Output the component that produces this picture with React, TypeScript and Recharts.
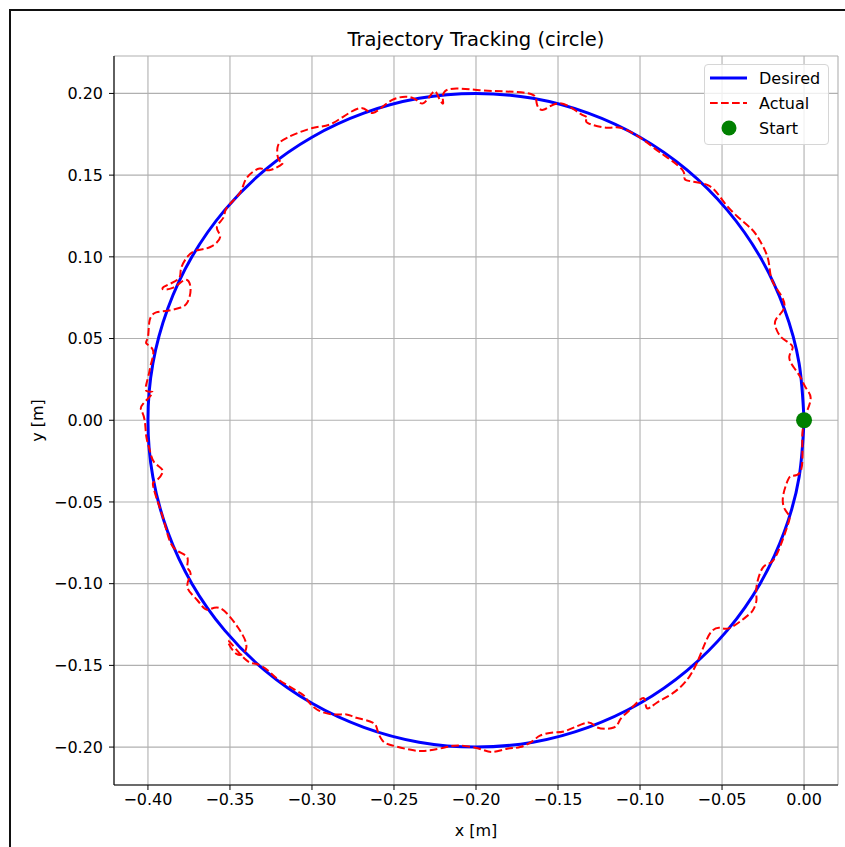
import React from "react";
import {
  ScatterChart,
  Scatter,
  XAxis,
  YAxis,
  CartesianGrid,
  Legend,
} from "recharts";

// desired path (circle, r = 0.2 m, centre -0.2), every 10 degrees
const desiredX = [
  0, -0.003, -0.0121, -0.0268, -0.0468, -0.0714, -0.1, -0.1316, -0.1653, -0.2,
  -0.2347, -0.2684, -0.3, -0.3286, -0.3532, -0.3732, -0.3879, -0.397, -0.4,
  -0.397, -0.3879, -0.3732, -0.3532, -0.3286, -0.3, -0.2684, -0.2347, -0.2,
  -0.1653, -0.1316, -0.1, -0.0714, -0.0468, -0.0268, -0.0121, -0.003, 0,
];
const desiredY = [
  0, 0.0347, 0.0684, 0.1, 0.1286, 0.1532, 0.1732, 0.1879, 0.197, 0.2, 0.197,
  0.1879, 0.1732, 0.1532, 0.1286, 0.1, 0.0684, 0.0347, 0, -0.0347, -0.0684,
  -0.1, -0.1286, -0.1532, -0.1732, -0.1879, -0.197, -0.2, -0.197, -0.1879,
  -0.1732, -0.1532, -0.1286, -0.1, -0.0684, -0.0347, 0,
];

// measured path
const actualX = [
  0, 0.002, 0.004, 0.001, -0.002, -0.006, -0.009, -0.007, -0.013, -0.017,
  -0.017, -0.012, -0.015, -0.02, -0.022, -0.027, -0.032, -0.041, -0.05, -0.059,
  -0.072, -0.074, -0.088, -0.1, -0.112,
  -0.12, -0.132, -0.132, -0.137, -0.149, -0.159, -0.163, -0.165, -0.177, -0.198,
  -0.218, -0.22, -0.223, -0.226, -0.232, -0.238, -0.251,
  -0.263, -0.271, -0.287, -0.299, -0.315, -0.321, -0.32, -0.318, -0.326, -0.332,
  -0.34, -0.344, -0.352, -0.354, -0.358, -0.356, -0.362, -0.37,
  -0.376, -0.38, -0.382, -0.391, -0.385, -0.377, -0.374, -0.376, -0.38, -0.388,
  -0.395, -0.399, -0.4, -0.401, -0.397, -0.398, -0.4, -0.401, -0.397, -0.403,
  -0.404, -0.402, -0.401, -0.399, -0.396, -0.391, -0.395, -0.397, -0.395,
  -0.391, -0.387, -0.382, -0.376, -0.376,
  -0.374, -0.376, -0.37, -0.364, -0.356, -0.345, -0.34, -0.346, -0.351, -0.341,
  -0.334, -0.327, -0.32, -0.307, -0.303, -0.297, -0.287, -0.279, -0.273,
  -0.263, -0.26, -0.257, -0.251,
  -0.238, -0.228, -0.218, -0.21, -0.198, -0.19, -0.181, -0.173, -0.165, -0.161,
  -0.153, -0.145, -0.132, -0.126, -0.116, -0.112, -0.106, -0.098, -0.096,
  -0.09, -0.08, -0.07, -0.063, -0.057,
  -0.051, -0.045, -0.035, -0.031, -0.029, -0.029, -0.025, -0.019, -0.013,
  -0.009, -0.01, -0.013, -0.01, -0.007, -0.002, -0.001, -0.001, 0,
];
const actualY = [
  0, 0.006, 0.014, 0.02, 0.026, 0.032, 0.039, 0.045, 0.05, 0.056, 0.062, 0.069,
  0.078, 0.087, 0.099, 0.11, 0.117, 0.125, 0.135, 0.144, 0.147, 0.153, 0.164,
  0.173, 0.179,
  0.179, 0.182, 0.185, 0.188, 0.194, 0.19, 0.194, 0.199, 0.201, 0.202, 0.202,
  0.194, 0.198, 0.201, 0.194, 0.197, 0.196,
  0.188, 0.191, 0.182, 0.179, 0.173, 0.167, 0.159, 0.157, 0.153, 0.154, 0.148,
  0.139, 0.13, 0.124, 0.118, 0.112, 0.106, 0.104,
  0.1, 0.092, 0.086, 0.081, 0.081, 0.086, 0.08, 0.072, 0.069, 0.067, 0.066,
  0.061, 0.051, 0.047, 0.043, 0.035, 0.026, 0.018, 0.017, 0.01, 0.006, 0,
  -0.01, -0.018, -0.026, -0.031, -0.037, -0.039, -0.047, -0.059, -0.073, -0.08,
  -0.084, -0.09,
  -0.094, -0.102, -0.11, -0.116, -0.115, -0.127, -0.139, -0.143, -0.135, -0.146,
  -0.149, -0.153, -0.159, -0.167, -0.171, -0.177, -0.18, -0.18, -0.182, -0.185,
  -0.19, -0.196, -0.199,
  -0.202, -0.202, -0.2, -0.199, -0.201, -0.203, -0.201, -0.2, -0.196, -0.193,
  -0.191, -0.19, -0.185, -0.188, -0.188, -0.183, -0.177, -0.17, -0.176, -0.173,
  -0.167, -0.157, -0.143, -0.13,
  -0.127, -0.127, -0.12, -0.116, -0.11, -0.102, -0.09, -0.086, -0.073, -0.061,
  -0.057, -0.049, -0.037, -0.034, -0.031, -0.018, -0.008, -0.001,
];

const startX = [0];
const startY = [0];

const xTicks = [-0.4, -0.35, -0.3, -0.25, -0.2, -0.15, -0.1, -0.05, 0];
const yTicks = [-0.2, -0.15, -0.1, -0.05, 0, 0.05, 0.1, 0.15, 0.2];

const toPoints = (xs: number[], ys: number[]) =>
  xs.map((x, i) => ({ x, y: ys[i] }));

const desired = toPoints(desiredX, desiredY);
const actual = toPoints(actualX, actualY);
const start = toPoints(startX, startY);

const FONT = "'DejaVu Sans', sans-serif";
const FS = 16;
const xDomain = [-0.4207, 0.0207];
const yDomain = [-0.2232, 0.2229];

const fmt = (v: number) => v.toFixed(2).replace("-", "\u2212");

const LegendBox = () => (
  <div
    style={{
      position: "relative",
      width: 125,
      height: 81,
      boxSizing: "border-box",
      border: "1px solid #d6d6d6",
      borderRadius: 4,
      background: "rgba(255,255,255,0.8)",
    }}
  >
    <svg width={125} height={81} style={{ position: "absolute", left: -1, top: -1 }}>
      <line x1={6} x2={43} y1={14} y2={14} stroke="#0000ff" strokeWidth={3} />
      <line
        x1={6}
        x2={43}
        y1={39}
        y2={39}
        stroke="#ff0000"
        strokeWidth={2}
        strokeDasharray="7.7 3.3"
      />
      <circle cx={25} cy={64} r={7.5} fill="#008000" />
      <text x={55} y={20} fontSize={FS} fontFamily={FONT} fill="#000">Desired</text>
      <text x={55} y={45} fontSize={FS} fontFamily={FONT} fill="#000">Actual</text>
      <text x={55} y={70} fontSize={FS} fontFamily={FONT} fill="#000">Start</text>
    </svg>
  </div>
);

const App = () => {
  return (
    <div
      style={{
        position: "absolute",
        left: 0,
        top: 0,
        width: 845,
        height: 847,
        background: "#fff",
        fontFamily: FONT,
      }}
    >
      <div
        style={{
          position: "absolute",
          left: 9,
          top: 9,
          width: 836,
          height: 838,
          borderLeft: "2px solid #111",
          borderTop: "2px solid #111",
        }}
      />
      <div
        style={{
          position: "absolute",
          left: 114,
          width: 724,
          top: 28,
          lineHeight: "24px",
          textAlign: "center",
          fontSize: 19.5,
          color: "#000",
        }}
      >
        Trajectory Tracking (circle)
      </div>
      <ScatterChart
        width={845}
        height={847}
        margin={{ top: 56, right: 7, bottom: 12, left: 34 }}
        style={{ position: "absolute", left: 0, top: 0 }}
      >
        <CartesianGrid stroke="#b0b0b0" strokeWidth={1.1} />
        <XAxis
          type="number"
          dataKey="x"
          domain={xDomain}
          allowDataOverflow
          ticks={xTicks}
          tickFormatter={fmt}
          height={50}
          tickSize={5}
          tickMargin={4}
          tick={{ fill: "#000", fontSize: FS, fontFamily: FONT }}
          tickLine={{ stroke: "#000" }}
          axisLine={{ stroke: "#000", strokeWidth: 1.1 }}
          label={{
            value: "x [m]",
            position: "insideBottom",
            offset: -1,
            style: { fill: "#000", fontSize: FS, fontFamily: FONT },
          }}
        />
        <XAxis
          xAxisId="top"
          orientation="top"
          type="number"
          dataKey="x"
          domain={xDomain}
          allowDataOverflow
          height={0}
          tick={false}
          tickLine={false}
          axisLine={{ stroke: "#000", strokeWidth: 1.1 }}
        />
        <YAxis
          type="number"
          dataKey="y"
          domain={yDomain}
          allowDataOverflow
          ticks={yTicks}
          tickFormatter={fmt}
          width={80}
          tickSize={5}
          tickMargin={6}
          tick={{ fill: "#000", fontSize: FS, fontFamily: FONT }}
          tickLine={{ stroke: "#000" }}
          axisLine={{ stroke: "#000", strokeWidth: 1.1 }}
          label={{
            value: "y [m]",
            angle: -90,
            position: "insideLeft",
            offset: 3,
            style: { fill: "#000", fontSize: FS, fontFamily: FONT, textAnchor: "middle" },
          }}
        />
        <YAxis
          yAxisId="right"
          orientation="right"
          type="number"
          dataKey="y"
          domain={yDomain}
          allowDataOverflow
          width={0}
          tick={false}
          tickLine={false}
          axisLine={{ stroke: "#000", strokeWidth: 1.1 }}
        />
        <Legend
          layout="vertical"
          align="center"
          verticalAlign="middle"
          content={() => <LegendBox />}
          wrapperStyle={{ left: 704, top: 64, width: 125, height: 81 }}
        />
        <Scatter
          name="Desired"
          data={desired}
          fill="#0000ff"
          line={{ stroke: "#0000ff", strokeWidth: 3 }}
          lineJointType="natural"
          shape={() => null}
          isAnimationActive={false}
        />
        <Scatter
          name="Actual"
          data={actual}
          fill="#ff0000"
          line={{ stroke: "#ff0000", strokeWidth: 2, strokeDasharray: "7.7 3.3" }}
          lineJointType="natural"
          shape={() => null}
          isAnimationActive={false}
        />
        <Scatter
          name="Start"
          data={start}
          fill="#008000"
          shape={(p: any) => <circle cx={p.cx} cy={p.cy} r={8} fill="#008000" />}
          isAnimationActive={false}
        />
      </ScatterChart>
    </div>
  );
};

export default App;
